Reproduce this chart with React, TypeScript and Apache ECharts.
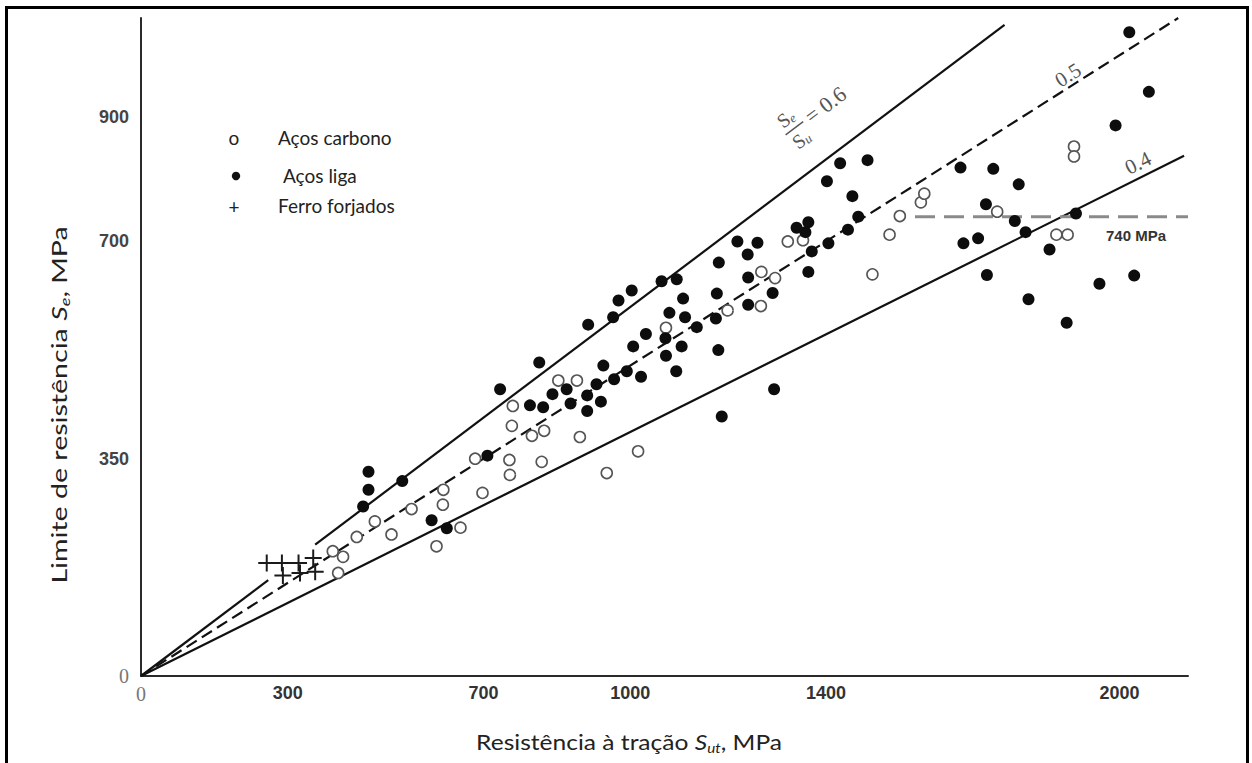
import React, { useEffect, useRef } from 'react';
import * as echarts from 'echarts';

// Axis tick labels (MPa)
const xTickValues = [0, 300, 700, 1000, 1400, 2000];
const yTickValues = [0, 350, 700, 900];

// [Sut, Se] in MPa — Aços carbono (open circles)
const carbonSteels: [number, number][] = [
  [403, 166], [392, 201], [413, 192], [441, 224], [478, 249], [512, 228], [553, 269],
  [604, 209], [617, 276], [618, 300], [653, 239], [683, 350], [698, 295], [753, 348],
  [754, 324], [758, 403], [760, 435], [799, 387], [824, 395], [819, 345], [853, 476],
  [891, 476], [897, 385], [952, 327], [1016, 362], [1073, 561], [1199, 589], [1267, 596],
  [1268, 651], [1296, 641], [1322, 700], [1353, 702], [1495, 647], [1530, 711], [1551, 741],
  [1594, 763], [1601, 777], [1750, 748], [1871, 711], [1894, 711], [1907, 853], [1907, 837],
];

// [Sut, Se] in MPa — Aços liga (filled circles)
const alloySteels: [number, number][] = [
  [465, 329], [465, 300], [454, 273], [534, 314], [594, 251], [625, 238], [708, 355],
  [734, 462], [795, 436], [822, 433], [814, 505], [841, 454], [870, 462], [878, 439],
  [914, 566], [912, 452], [912, 427], [931, 470], [940, 442], [945, 500], [967, 478],
  [993, 491], [1006, 531], [1022, 482], [1032, 551], [965, 578], [976, 605], [1003, 621],
  [1064, 636], [1095, 639], [1072, 544], [1080, 585], [1073, 516], [1094, 491], [1105, 531],
  [1108, 608], [1112, 578], [1136, 562], [1175, 576], [1177, 616], [1180, 525], [1181, 666],
  [1187, 418], [1219, 700], [1260, 698], [1240, 679], [1241, 642], [1241, 598], [1291, 617],
  [1294, 462], [1364, 651], [1340, 722], [1364, 731], [1358, 715], [1371, 684], [1405, 697],
  [1402, 797], [1429, 826], [1485, 831], [1454, 773], [1466, 740], [1445, 719], [1675, 819],
  [1742, 817], [1794, 792], [1727, 760], [1786, 733], [1808, 715], [1681, 697], [1711, 705],
  [1729, 646], [1814, 607], [1857, 687], [1892, 569], [1911, 745], [1959, 632], [2030, 645],
  [1992, 887], [2020, 1037], [2060, 941],
];

// [Sut, Se] in MPa — Ferro forjados (crosses)
const wroughtIrons: [number, number][] = [
  [257, 182], [288, 182], [290, 162], [322, 182], [325, 166], [352, 190], [356, 168],
];

// Reference lines Se/Su (endpoints)
const ratio06Lower: [number, number][] = [[0, 0], [260, 154.5]];
const ratio06Upper: [number, number][] = [[356, 211.6], [1765, 1049]];
const ratio05Line: [number, number][] = [[0, 0], [2120, 1060]];
const ratio04Line: [number, number][] = [[0, 0], [2132, 838]];
const limitLine: [number, number][] = [[1582, 740], [2140, 740]];

const SANS = 'Lato, "Open Sans", sans-serif';
const SERIF = '"Liberation Serif", "DejaVu Serif", serif';
const ARIAL = '"Liberation Sans", Arial, sans-serif';

const crossPath =
  'path://M5.3,0h1.4v5.3h5.3v1.4h-5.3v5.3h-1.4v-5.3h-5.3v-1.4h5.3z';

export default function App() {
  const ref = useRef<HTMLDivElement>(null);

  useEffect(() => {
    document.body.style.margin = '0';
    if (!ref.current) return;
    const chart = echarts.init(ref.current, undefined, { renderer: 'svg' });

    const lineBase = {
      type: 'line' as const,
      symbol: 'none',
      silent: true,
      z: 1,
    };

    const tickLabel = (margin: number, color: string) => ({
      margin,
      color,
      fontFamily: ARIAL,
      fontWeight: 'bold',
      fontSize: 18,
      formatter: (v: number) => (v === 0 ? '{z|0}' : String(v)),
      rich: { z: { fontFamily: SERIF, fontSize: 20, color: '#777', fontWeight: 'normal' } },
    });

    const option: any = {
      animation: false,
      backgroundColor: '#ffffff',
      grid: { left: 141, top: 18, width: 1047, height: 658, containLabel: false },
      xAxis: {
        type: 'value',
        min: 0,
        max: 2140,
        axisLine: { show: true, lineStyle: { color: '#2a2a2a', width: 2 } },
        axisTick: { show: false },
        splitLine: { show: false },
        axisLabel: { customValues: xTickValues, ...tickLabel(8, '#333') },
      },
      yAxis: {
        type: 'value',
        min: 0,
        max: 1060,
        axisLine: { show: true, lineStyle: { color: '#2a2a2a', width: 2 } },
        axisTick: { show: false },
        splitLine: { show: false },
        axisLabel: { customValues: yTickValues, ...tickLabel(12, '#444') },
      },
      series: [
        { ...lineBase, name: '0.6a', data: ratio06Lower, lineStyle: { color: '#111', width: 2.2 } },
        { ...lineBase, name: '0.6b', data: ratio06Upper, lineStyle: { color: '#111', width: 2.2 } },
        { ...lineBase, name: '0.5', data: ratio05Line, lineStyle: { color: '#111', width: 2.2, type: [12, 6] } },
        { ...lineBase, name: '0.4', data: ratio04Line, lineStyle: { color: '#111', width: 2.2 } },
        { ...lineBase, name: '740', data: limitLine, lineStyle: { color: '#8a8a8a', width: 3, type: [20, 9] } },
        {
          type: 'scatter',
          name: 'Aços carbono',
          data: carbonSteels,
          symbol: 'circle',
          symbolSize: 11,
          z: 3,
          itemStyle: { color: '#ffffff', borderColor: '#555', borderWidth: 1.6, opacity: 1 },
        },
        {
          type: 'scatter',
          name: 'Aços liga',
          data: alloySteels,
          symbol: 'circle',
          symbolSize: 12,
          z: 4,
          itemStyle: { color: '#0d0d0d', opacity: 1 },
        },
        {
          type: 'scatter',
          name: 'Ferro forjados',
          data: wroughtIrons,
          symbol: crossPath,
          symbolSize: 17,
          z: 4,
          itemStyle: { color: '#1a1a1a', opacity: 1 },
        },
      ],
      graphic: [
        // outer frame
        {
          type: 'rect',
          shape: { x: 6.5, y: 7.5, width: 1241, height: 800 },
          style: { fill: 'none', stroke: '#000', lineWidth: 3 },
          silent: true,
        },
        // legend
        { type: 'text', x: 234, y: 137, style: { text: 'o', font: `19px ${SANS}`, fill: '#222', align: 'center', verticalAlign: 'middle' } },
        { type: 'text', x: 278, y: 137, style: { text: 'Aços carbono', font: `19px ${SANS}`, fill: '#222', align: 'left', verticalAlign: 'middle' } },
        { type: 'circle', shape: { cx: 236, cy: 176, r: 4.2 }, style: { fill: '#111' } },
        { type: 'text', x: 283, y: 175, style: { text: 'Aços liga', font: `19px ${SANS}`, fill: '#222', align: 'left', verticalAlign: 'middle' } },
        { type: 'text', x: 234, y: 206, style: { text: '+', font: `19px ${SANS}`, fill: '#222', align: 'center', verticalAlign: 'middle' } },
        { type: 'text', x: 278, y: 205, style: { text: 'Ferro forjados', font: `19px ${SANS}`, fill: '#222', align: 'left', verticalAlign: 'middle' } },
        // axis titles
        {
          type: 'text',
          x: 629,
          y: 742,
          scaleX: 1.17,
          style: {
            text: '{t|Resistência à tração }{s|S}{b|ut}{t|, MPa}',
            align: 'center',
            verticalAlign: 'middle',
            fill: '#222',
            rich: {
              t: { fontFamily: SANS, fontSize: 21, lineHeight: 25, fill: '#222' },
              s: { fontFamily: SANS, fontSize: 21, lineHeight: 25, fontStyle: 'italic', fill: '#222' },
              b: { fontFamily: SANS, fontSize: 13, lineHeight: 10, fontStyle: 'italic', verticalAlign: 'bottom', fill: '#222' },
            },
          },
        },
        {
          type: 'text',
          x: 58,
          y: 405,
          rotation: Math.PI / 2,
          scaleX: 1.3,
          style: {
            text: '{t|Limite de resistência }{s|S}{b|e}{t|, MPa}',
            align: 'center',
            verticalAlign: 'middle',
            fill: '#222',
            rich: {
              t: { fontFamily: SANS, fontSize: 22, lineHeight: 26, fill: '#222' },
              s: { fontFamily: SANS, fontSize: 22, lineHeight: 26, fontStyle: 'italic', fill: '#222' },
              b: { fontFamily: SANS, fontSize: 14, lineHeight: 10, fontStyle: 'italic', verticalAlign: 'bottom', fill: '#222' },
            },
          },
        },
        // Se/Su = 0.6 annotation
        {
          type: 'group',
          x: 793,
          y: 128,
          rotation: 0.646,
          children: [
            {
              type: 'text', x: 0, y: -12,
              style: {
                text: '{s|S}{b|e}', align: 'center', verticalAlign: 'middle',
                rich: {
                  s: { fontFamily: SERIF, fontSize: 20, fill: '#555' },
                  b: { fontFamily: SERIF, fontSize: 13, fontStyle: 'italic', fill: '#555', verticalAlign: 'bottom', lineHeight: 9 },
                },
              },
            },
            { type: 'line', shape: { x1: -10, y1: 1, x2: 12, y2: 1 }, style: { stroke: '#555', lineWidth: 1.4 } },
            {
              type: 'text', x: 0, y: 14,
              style: {
                text: '{s|S}{b|u}', align: 'center', verticalAlign: 'middle',
                rich: {
                  s: { fontFamily: SERIF, fontSize: 20, fill: '#555' },
                  b: { fontFamily: SERIF, fontSize: 13, fontStyle: 'italic', fill: '#555', verticalAlign: 'bottom', lineHeight: 9 },
                },
              },
            },
            { type: 'text', x: 17, y: 1, style: { text: '= 0.6', font: `22px ${SERIF}`, fill: '#555', align: 'left', verticalAlign: 'middle' } },
          ],
        },
        { type: 'text', x: 1068, y: 75, rotation: 0.56, style: { text: '0.5', font: `21px ${SERIF}`, fill: '#555', align: 'center', verticalAlign: 'middle' } },
        { type: 'text', x: 1138, y: 163, rotation: 0.46, style: { text: '0.4', font: `21px ${SERIF}`, fill: '#555', align: 'center', verticalAlign: 'middle' } },
        { type: 'text', x: 1136, y: 235, style: { text: '740 MPa', font: `bold 15px ${ARIAL}`, fill: '#333', align: 'center', verticalAlign: 'middle' } },
      ],
    };

    chart.setOption(option);
    return () => {
      chart.dispose();
    };
  }, []);

  return <div ref={ref} style={{ width: 1252, height: 763 }} />;
}
